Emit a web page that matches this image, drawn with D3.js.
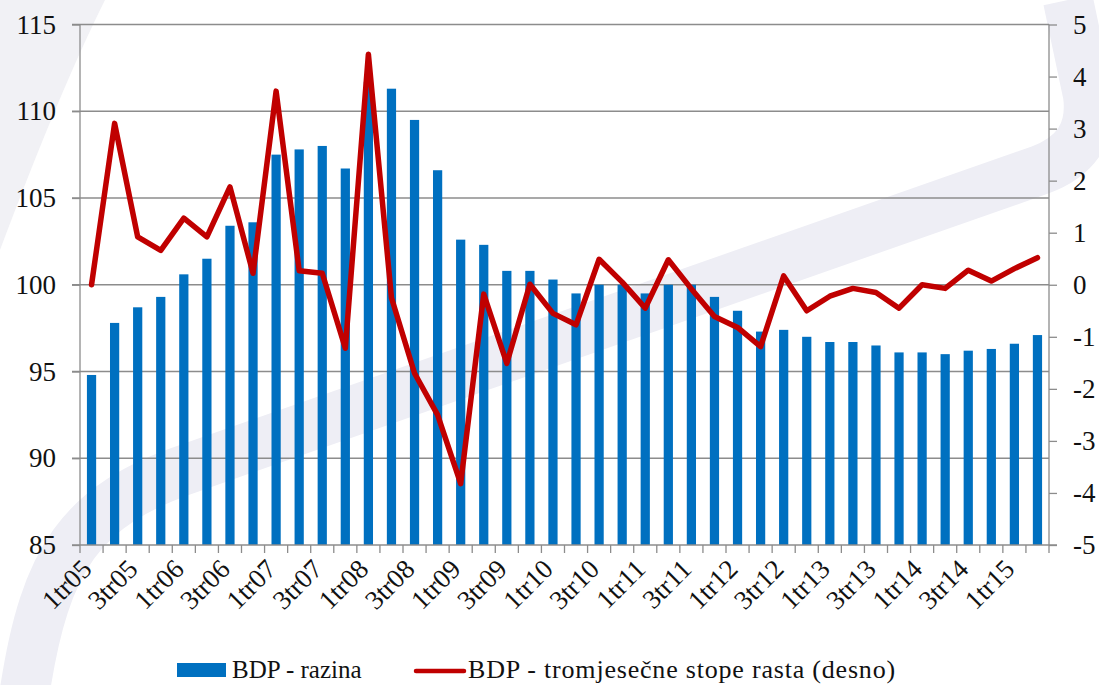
<!DOCTYPE html>
<html>
<head>
<meta charset="utf-8">
<script src="https://cdn.jsdelivr.net/npm/d3@7"></script>
<style>
  body { margin: 0; background: #fff; }
  svg text { font-family: "Liberation Serif", serif; fill: #111; }
</style>
</head>
<body>
<svg id="chart" width="1099" height="685"></svg>
<script>
// quarters 1tr05 .. 2tr15
var quarters = []
for (var yr = 5; yr <= 15; yr++) {
    for (var q = 1; q <= 4; q++) {
        if (yr === 15 && q > 2) break
        quarters.push(q + "tr" + (yr < 10 ? "0" + yr : yr))
    }
}

// BDP - razina (left axis)
var level = [94.8, 97.8, 98.7, 99.3, 100.6, 101.5, 103.4, 103.6, 107.5, 107.8, 108.0, 106.7,
    111.7, 111.3, 109.5, 106.6, 102.6, 102.3, 100.8, 100.8, 100.3, 99.5, 100.0, 100.0,
    99.5, 100.0, 100.0, 99.3, 98.5, 97.3, 97.4, 97.0, 96.7, 96.7, 96.5, 96.1,
    96.1, 96.0, 96.2, 96.3, 96.6, 97.1]

// BDP - tromjesecne stope rasta (right axis)
var growth = [0.0, 3.1, 0.92, 0.66, 1.28, 0.92, 1.88, 0.22, 3.72, 0.27, 0.22, -1.22,
    4.43, -0.25, -1.7, -2.5, -3.82, -0.18, -1.51, 0.01, -0.55, -0.77, 0.49, 0.05,
    -0.45, 0.48, -0.08, -0.61, -0.82, -1.19, 0.17, -0.5, -0.22, -0.07, -0.15, -0.45,
    0.0, -0.07, 0.28, 0.07, 0.31, 0.52]

var leftTicks = [85, 90, 95, 100, 105, 110, 115]
var rightTicks = [-5, -4, -3, -2, -1, 0, 1, 2, 3, 4, 5]
var legendNames = ["BDP - razina", "BDP - tromjesečne stope rasta (desno)"]

var svg = d3.select("#chart")
var pLeft = 80, pRight = 1049, pTop = 24.5, pBottom = 545
var grid = "#8c8c8c"

// faint watermark behind the chart
svg.append("path")
    .attr("d", "M0,0 L105,0 Q60,90 0,250 Z")
    .attr("fill", "#f1f1f5")
svg.append("path")
    .attr("d", "M25,690 C45,560 80,505 190,468 L1040,170 Q1095,150 1088,95 L1068,0")
    .attr("fill", "none")
    .attr("stroke", "#eeeef5")
    .attr("stroke-width", 50)

var x = d3.scaleBand().domain(quarters).range([pLeft, pRight]).paddingInner(0.6).paddingOuter(0.3)
var yL = d3.scaleLinear().domain([85, 115]).range([pBottom, pTop])
var yR = d3.scaleLinear().domain([-5, 5]).range([pBottom, pTop])

// gridlines
svg.append("g").selectAll("line")
    .data(leftTicks.slice(1))
    .enter().append("line")
    .attr("x1", pLeft - 8).attr("x2", pRight)
    .attr("y1", function(d) { return yL(d) }).attr("y2", function(d) { return yL(d) })
    .attr("stroke", grid).attr("stroke-width", 1.3)

// bars
svg.append("g").selectAll("rect")
    .data(level)
    .enter().append("rect")
    .attr("x", function(d, i) { return x(quarters[i]) })
    .attr("width", x.bandwidth())
    .attr("y", function(d) { return yL(d) })
    .attr("height", function(d) { return yL(85) - yL(d) })
    .attr("fill", "#0070c0")

// axes
var axL = svg.append("g").attr("transform", "translate(" + pLeft + ",0)")
    .call(d3.axisLeft(yL).tickValues(leftTicks).tickSize(8).tickSizeOuter(0).tickPadding(16))
var axR = svg.append("g").attr("transform", "translate(" + pRight + ",0)")
    .call(d3.axisRight(yR).tickValues(rightTicks).tickSize(8).tickSizeOuter(0).tickPadding(16)
        .tickFormat(function(d) { return String(d) }))
var xBoundaries = d3.range(quarters.length + 1).map(function(i) { return pLeft + i * x.step() })
var axB = svg.append("g")
axB.append("line").attr("x1", pLeft - 8).attr("x2", pRight + 8)
    .attr("y1", pBottom).attr("y2", pBottom).attr("stroke", grid).attr("stroke-width", 1.3)
axB.selectAll(".tk").data(xBoundaries).enter().append("line")
    .attr("x1", function(d) { return d }).attr("x2", function(d) { return d })
    .attr("y1", pBottom).attr("y2", pBottom + 8)
    .attr("stroke", grid).attr("stroke-width", 1.3)

;[axL, axR].forEach(function(ax) {
    ax.select(".domain").attr("stroke", grid).attr("stroke-width", 1.3)
    ax.selectAll(".tick line").attr("stroke", grid).attr("stroke-width", 1.3)
    ax.selectAll(".tick text").attr("font-size", 27).attr("font-family", "Liberation Serif").attr("fill", "#111")
})
axL.select(".domain").attr("d", "M0," + pTop + "V" + pBottom)
axR.select(".domain").attr("d", "M0," + pTop + "V" + pBottom)

// x labels, every second quarter
axB.selectAll(".lbl")
    .data(quarters.filter(function(d, i) { return i % 2 === 0 }))
    .enter().append("text")
    .attr("text-anchor", "end")
    .attr("font-size", 27)
    .attr("transform", function(d) {
        return "translate(" + (x(d) + x.bandwidth() / 2 - 5) + "," + (pBottom + 19) + ") rotate(-45)"
    })
    .attr("dy", "0.35em")
    .text(function(d) { return d })

// growth line
var line = d3.line()
    .x(function(d, i) { return x(quarters[i]) + x.bandwidth() / 2 })
    .y(function(d) { return yR(d) })
svg.append("path")
    .datum(growth)
    .attr("d", line)
    .attr("fill", "none")
    .attr("stroke", "#c00000")
    .attr("stroke-width", 5.5)
    .attr("stroke-linejoin", "round")
    .attr("stroke-linecap", "round")

// legend
var lg = svg.append("g")
lg.append("rect").attr("x", 177).attr("y", 663).attr("width", 49).attr("height", 14).attr("fill", "#0070c0")
lg.append("text").attr("x", 232).attr("y", 678).attr("font-size", 25).text(legendNames[0])
lg.append("line").attr("x1", 416).attr("x2", 464).attr("y1", 671).attr("y2", 671)
    .attr("stroke", "#c00000").attr("stroke-width", 4.5).attr("stroke-linecap", "round")
lg.append("text").attr("x", 468).attr("y", 678).attr("font-size", 26)
    .attr("letter-spacing", 0.8).text(legendNames[1])
</script>
</body>
</html>
